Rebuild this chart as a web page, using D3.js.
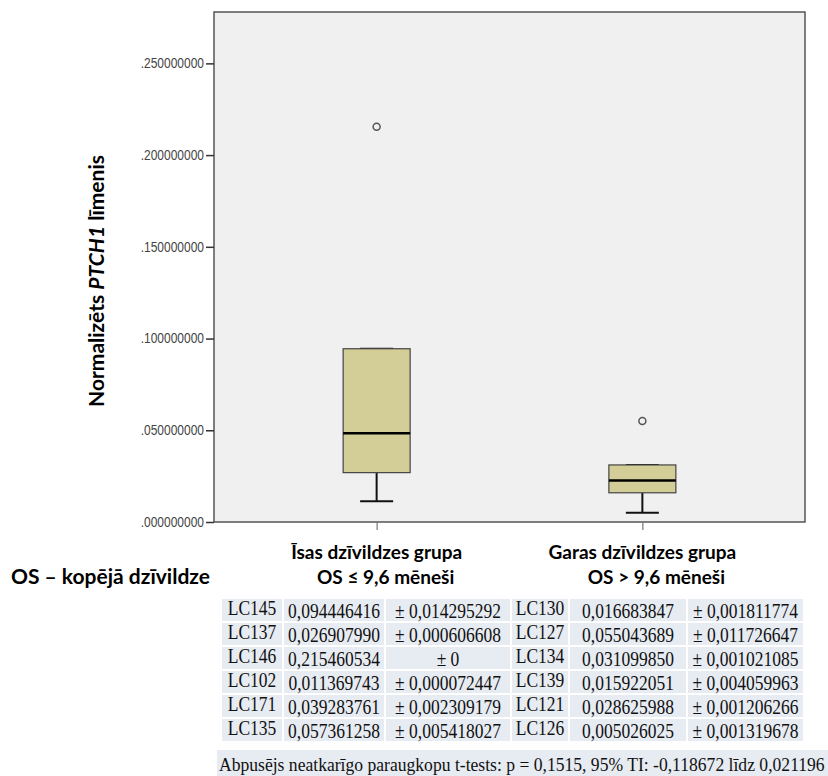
<!DOCTYPE html>
<html>
<head>
<meta charset="utf-8">
<script src="https://cdn.jsdelivr.net/npm/d3@7"></script>
<style>
  body { margin: 0; background: #fff; }
  svg { display: block; }
</style>
</head>
<body>
<svg width="828" height="776"></svg>
<script>
// groups (x categories)
var groups = ["short", "long"];
var groupLine1 = ["Īsas dzīvildzes grupa", "Garas dzīvildzes grupa"];
var groupLine2 = ["OS ≤ 9,6 mēneši", "OS > 9,6 mēneši"];

// samples per group: id, mean, sd
var shortIds = ["LC145", "LC137", "LC146", "LC102", "LC171", "LC135"];
var shortVals = [0.094446416, 0.026907990, 0.215460534, 0.011369743, 0.039283761, 0.057361258];
var shortSd = [0.014295292, 0.000606608, 0, 0.000072447, 0.002309179, 0.005418027];

var longIds = ["LC130", "LC127", "LC134", "LC139", "LC121", "LC126"];
var longVals = [0.016683847, 0.055043689, 0.031099850, 0.015922051, 0.028625988, 0.005026025];
var longSd = [0.001811774, 0.011726647, 0.001021085, 0.004059963, 0.001206266, 0.001319678];

var yTicks = [0, 0.05, 0.10, 0.15, 0.20, 0.25];
var footnote = "Abpusējs neatkarīgo paraugkopu t-tests: p = 0,1515, 95% TI: -0,118672 līdz 0,021196";

var svg = d3.select("svg");
var plot = {left: 214, top: 12, right: 805, bottom: 522};

var x = d3.scalePoint()
    .domain(groups)
    .range([plot.left, plot.right])
    .padding(0.612);

var y = d3.scaleLinear()
    .domain([0, 0.278])
    .range([plot.bottom, plot.top]);

// tukey hinges like SPSS
function boxStats(vals) {
    var s = vals.slice().sort(d3.ascending);
    var n = s.length;
    var med = d3.median(s);
    var half = Math.floor((n + 1) / 2);
    var q1 = d3.median(s.slice(0, half));
    var q3 = d3.median(s.slice(n - half));
    var iqr = q3 - q1;
    var lo = q1 - 1.5 * iqr, hi = q3 + 1.5 * iqr;
    var inside = s.filter(function(v) { return v >= lo && v <= hi; });
    return {
        q1: q1, med: med, q3: q3,
        wlo: d3.min(inside), whi: d3.max(inside),
        out: s.filter(function(v) { return v < lo || v > hi; })
    };
}

var stats = [boxStats(shortVals), boxStats(longVals)];

// plot background + frame
svg.append("rect")
    .attr("x", plot.left).attr("y", plot.top)
    .attr("width", plot.right - plot.left)
    .attr("height", plot.bottom - plot.top)
    .attr("fill", "#f0f0f0")
    .attr("stroke", "#555")
    .attr("stroke-width", 1.5);

// y axis
var yAxis = svg.append("g")
    .attr("transform", "translate(" + plot.left + ",0)")
    .call(d3.axisLeft(y).tickValues(yTicks).tickSize(8)
        .tickFormat(function(d) { return d3.format(".9f")(d).replace(/^0/, ""); }));
yAxis.select(".domain").remove();
yAxis.selectAll(".tick line").attr("stroke", "#333").attr("stroke-width", 1.5);
yAxis.selectAll(".tick text")
    .attr("x", -10)
    .attr("transform", "scale(1,1.15)")
    .attr("fill", "#444")
    .style("font-family", "'Liberation Sans', Arial, sans-serif")
    .style("font-size", "12px");

// x ticks (small marks below plot)
var xAxis = svg.append("g")
    .attr("transform", "translate(0," + plot.bottom + ")")
    .call(d3.axisBottom(x).tickSize(8).tickFormat(""));
xAxis.select(".domain").remove();
xAxis.selectAll(".tick line").attr("stroke", "#777").attr("stroke-width", 1.2);

// boxes
var bw = 67, cap = 33;
var box = svg.append("g").selectAll("g")
    .data(stats)
    .enter().append("g")
    .attr("transform", function(d, i) { return "translate(" + x(groups[i]) + ",0)"; });

box.append("line")
    .attr("x1", 0).attr("x2", 0)
    .attr("y1", function(d) { return y(d.wlo); })
    .attr("y2", function(d) { return y(d.q1); })
    .attr("stroke", "#111").attr("stroke-width", 2);
box.append("line")
    .attr("x1", 0).attr("x2", 0)
    .attr("y1", function(d) { return y(d.whi); })
    .attr("y2", function(d) { return y(d.q3); })
    .attr("stroke", "#111").attr("stroke-width", 2);
box.append("line")
    .attr("x1", -cap / 2).attr("x2", cap / 2)
    .attr("y1", function(d) { return y(d.wlo); })
    .attr("y2", function(d) { return y(d.wlo); })
    .attr("stroke", "#111").attr("stroke-width", 2);
box.append("line")
    .attr("x1", -cap / 2).attr("x2", cap / 2)
    .attr("y1", function(d) { return y(d.whi); })
    .attr("y2", function(d) { return y(d.whi); })
    .attr("stroke", "#111").attr("stroke-width", 2);

box.append("rect")
    .attr("x", -bw / 2).attr("width", bw)
    .attr("y", function(d) { return y(d.q3); })
    .attr("height", function(d) { return y(d.q1) - y(d.q3); })
    .attr("fill", "#d3ce97")
    .attr("stroke", "#444").attr("stroke-width", 1.2);

box.append("line")
    .attr("x1", -bw / 2).attr("x2", bw / 2)
    .attr("y1", function(d) { return y(d.med); })
    .attr("y2", function(d) { return y(d.med); })
    .attr("stroke", "#000").attr("stroke-width", 2.5);

box.selectAll("circle")
    .data(function(d) { return d.out; })
    .enter().append("circle")
    .attr("cx", 0)
    .attr("cy", function(v) { return y(v); })
    .attr("r", 3.5)
    .attr("fill", "none")
    .attr("stroke", "#555").attr("stroke-width", 1.5);

// y title
var yTitle = svg.append("text")
    .attr("transform", "translate(104,281) rotate(-90)")
    .attr("text-anchor", "middle")
    .style("font-family", "Lato, 'Open Sans', sans-serif")
    .style("font-weight", "bold")
    .style("font-size", "21px")
    .attr("fill", "#000");
yTitle.append("tspan").text("Normalizēts ");
yTitle.append("tspan").style("font-style", "italic").text("PTCH1");
yTitle.append("tspan").text(" līmenis");

// category labels
var lab = svg.append("g")
    .style("font-family", "Lato, 'Open Sans', sans-serif")
    .style("font-weight", "bold")
    .style("font-size", "19px")
    .attr("fill", "#000");

lab.selectAll(".l1")
    .data(groupLine1)
    .enter().append("text")
    .attr("class", "l1")
    .attr("x", function(d, i) { return x(groups[i]); })
    .attr("y", 559)
    .attr("text-anchor", "middle")
    .text(function(d) { return d; });

lab.selectAll(".l2")
    .data(groupLine2)
    .enter().append("text")
    .attr("class", "l2")
    .attr("x", function(d, i) { return x(groups[i]) + [9, 14][i]; })
    .attr("y", 584)
    .attr("text-anchor", "middle")
    .text(function(d) { return d; });

lab.append("text")
    .attr("x", 11).attr("y", 584)
    .style("font-size", "21px")
    .text("OS – kopējā dzīvildze");

// table
var fmt = function(v) { return d3.format(".9f")(v).replace(".", ","); };
var fmtSd = function(v) { return v === 0 ? "± 0" : "± " + fmt(v); };

var cols = [[222, 282], [284, 384], [386, 510], [512, 568], [570, 686], [688, 803]];
var rowTop = 599, rowH = 24, cellH = 22;

var rows = d3.range(shortIds.length).map(function(i) {
    return [shortIds[i], fmt(shortVals[i]), fmtSd(shortSd[i]),
            longIds[i], fmt(longVals[i]), fmtSd(longSd[i])];
});

var table = svg.append("g")
    .style("font-family", "'Liberation Serif', 'Times New Roman', serif")
    .style("font-size", "17.5px");

var tr = table.selectAll("g")
    .data(rows)
    .enter().append("g")
    .attr("transform", function(d, i) { return "translate(0," + (rowTop + i * rowH) + ")"; });

tr.selectAll("rect")
    .data(function(d) { return d; })
    .enter().append("rect")
    .attr("x", function(d, j) { return cols[j][0]; })
    .attr("width", function(d, j) { return cols[j][1] - cols[j][0]; })
    .attr("y", 0).attr("height", cellH)
    .attr("fill", "#e7ebf2");

tr.selectAll("text")
    .data(function(d) { return d; })
    .enter().append("text")
    .attr("transform", function(d, j) {
        var cx = (cols[j][0] + cols[j][1]) / 2;
        return "translate(" + cx + "," + (j % 3 === 0 ? 16 : 19) + ") scale(1,1.15)";
    })
    .attr("text-anchor", "middle")
    .attr("fill", "#111")
    .text(function(d) { return d; });

svg.append("rect")
    .attr("x", 217).attr("y", 750)
    .attr("width", 828 - 217).attr("height", 30)
    .attr("fill", "#e7ebf2");

svg.append("text")
    .attr("transform", "translate(219,771) scale(1,1.12)")
    .style("font-family", "'Liberation Serif', 'Times New Roman', serif")
    .style("font-size", "17.6px")
    .attr("fill", "#111")
    .text(footnote);
</script>
</body>
</html>
